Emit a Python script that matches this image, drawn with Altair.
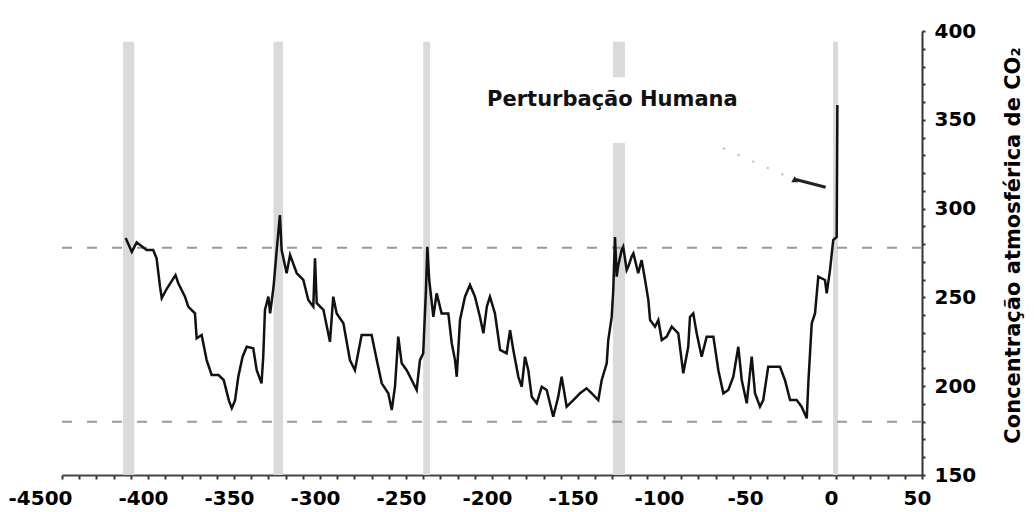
import altair as alt
import pandas as pd

# --- data (thousand years before present, CO2 ppm) ---
years = [-413, -409.4, -406.6, -400.8, -397, -395, -393, -392, -389, -384, -382.4, -378.5, -376.6,
         -372.7, -371.7, -368.8, -365.9, -363, -359, -356, -353, -351.3, -349.4, -347.5, -345,
         -342.6, -338.8, -336.8, -334, -333, -332, -330, -329, -327, -325, -323.3, -322.3, -319.4,
         -317.4, -313.5, -309.7, -306.8, -303.9, -302.9, -301.9, -298, -296, -294.2, -292.3, -290.3,
         -286.4, -282.6, -279.7, -275.8, -270, -267, -264.1, -260.3, -258.3, -256.4, -254.5, -252.5,
         -249.6, -246.7, -243.8, -241.9, -240, -238.4, -237.6, -236.5, -234.1, -232.2, -229.3, -225.4,
         -223.4, -221.5, -220.5, -218.6, -215.7, -212.8, -209.9, -207, -205, -203, -201.2, -198.3,
         -195.3, -191.5, -189.5, -187.6, -184.7, -182.7, -180.8, -178.9, -176.9, -174, -171.1, -168.2,
         -164.4, -161.5, -159.5, -156.6, -152.7, -148.8, -145, -142, -138.2, -136.2, -133.3, -132.4,
         -130.4, -129.5, -128.5, -127.5, -126.6, -124.6, -123.7, -121.7, -120.8, -118.8, -117.8, -115,
         -113, -111, -109.1, -108.1, -105.2, -103.3, -101.3, -98.4, -95.5, -91.7, -88.8, -85.9, -84.9,
         -83, -81, -78.1, -75.2, -71.3, -68.4, -65.5, -62.6, -59.7, -56.8, -54.8, -51.9, -49, -47.1,
         -44.2, -42.3, -39.4, -32.6, -29.7, -26.7, -22.9, -20, -17, -16, -14.1, -12.2, -10.3, -6.4,
         -5.4, -3.5, -1.6, 0.4, 0.8]
co2 = [283.4, 275.7, 281, 276.7, 276.7, 272, 256, 249.6, 255, 262.6, 258, 250.4, 244.8,
       241, 227, 228.8, 214.7, 206.3, 206.3, 203.5, 192, 187.6, 192, 205.3, 216.6,
       222.2, 221.3, 209, 201.6, 216.6, 243, 250.4, 241, 256, 278.5, 296.4, 276.7, 263.6,
       273.9, 263.6, 259.8, 248.5, 244.8, 272, 246.7, 243, 233.5, 225, 250.4, 241,
       235.4, 214.7, 209, 228.8, 228.8, 214.7, 201.6, 196, 186.6, 199.7, 227.9, 212.9,
       209, 203.5, 197.9, 214.7, 218.5, 254, 278.5, 259.8, 239, 252.3, 241, 241,
       224.2, 214.7, 205.3, 237.3, 250.4, 257, 250.4, 239, 229.8, 244.8, 250.4, 241,
       220.4, 218.5, 231.6, 220.4, 205.3, 199.7, 216.6, 209, 194, 190.4, 199.7, 197.9,
       182.8, 194, 205.3, 188.5, 192.2, 196, 198.8, 196, 192.2, 203.5, 212.9, 226,
       239, 254, 284, 261.7, 268, 276.7, 278.5, 265.4, 267.2, 273, 274.8, 263.6,
       271, 259.8, 248.5, 237.3, 233.5, 237.3, 226, 227.9, 233.5, 229.8, 207.3, 222.2, 239,
       241, 229.8, 216.6, 227.9, 227.9, 209, 196, 197.9, 205.3, 222.2, 203.5, 190.4, 216.6, 196,
       188.5, 192.2, 211, 211, 203.5, 192.2, 192.2, 188.5, 181.9, 203.5, 235.4, 241, 261.7, 259.8,
       252.3, 265.4, 282.3, 284, 358.3]

# interglacial bands (start, end in kyr)
band_start = [-414.5, -327, -240, -129.7, -1.7]
band_end = [-408, -321.5, -236, -122.7, 1.2]
band_top = 394

# reference levels (dashed)
ref_levels = [278, 180]

# annotation
label_text = "Perturbação Humana"
label_x = -130
label_y = 361
box_x = [-207, -53]
box_y = [337, 374]
arrow_dot_x = [-65.7, -27]
arrow_dot_y = [334, 317.5]
arrow_head_x = [-24, -6]
arrow_head_y = [316.5, 312]

x_ticks = list(range(-450, 51, 10))
y_ticks = list(range(150, 401, 10))

FONT = "DejaVu Sans"

curve_df = pd.DataFrame({"t": years, "co2": co2})
bands_df = pd.DataFrame({"a": band_start, "b": band_end, "lo": [150] * 5, "hi": [band_top] * 5})
ref_df = pd.DataFrame({"lvl": ref_levels, "a": [-450] * 2, "b": [50] * 2})
box_df = pd.DataFrame({"a": [box_x[0]], "b": [box_x[1]], "lo": [box_y[0]], "hi": [box_y[1]]})
dot_df = pd.DataFrame({"t": arrow_dot_x, "co2": arrow_dot_y})
head_df = pd.DataFrame({"t": arrow_head_x, "co2": arrow_head_y})
lab_df = pd.DataFrame({"t": [label_x], "co2": [label_y], "txt": [label_text]})

xscale = alt.Scale(domain=[-450, 50], nice=False, zero=False)
yscale = alt.Scale(domain=[150, 400], nice=False, zero=False)

xaxis = alt.Axis(
    values=x_ticks,
    labelExpr="datum.value == -450 ? '-4500' : (datum.value % 50 == 0 ? '' + datum.value : '')",
    title=None, grid=False, domainColor="#444", domainWidth=2,
    tickColor="#333", tickSize=4, tickWidth=2,
    labelFont=FONT, labelFontWeight="bold", labelFontSize=20, labelColor="black",
    labelPadding=9,
    labelOffset={"condition": {"test": "datum.value == -450", "value": -22}, "value": -5},
    labelFlush=False, labelOverlap=False, labelBound=False,
)
yaxis = alt.Axis(
    orient="right",
    values=y_ticks,
    labelExpr="datum.value % 50 == 0 ? '' + datum.value : ''",
    grid=False, domainColor="#333", domainWidth=2,
    tickColor="#333", tickSize=3, tickWidth=2,
    labelFont=FONT, labelFontWeight="bold", labelFontSize=20, labelColor="black",
    labelPadding=9, labelFlush=False, labelOverlap=False, labelBound=False,
    labelBaseline="middle",
    title="Concentração atmosférica de CO₂",
    titleFont=FONT, titleFontWeight="bold", titleFontSize=21, titleColor="black",
    titleAngle=270, titleX=91, titleY=214, titleAlign="center", titleBaseline="middle",
)


def X(f):
    return alt.X(f, type="quantitative", scale=xscale, axis=xaxis)


def Y(f):
    return alt.Y(f, type="quantitative", scale=yscale, axis=yaxis)


bands = alt.Chart(bands_df).mark_rect(color="#dadada").encode(
    x=X("a"), x2="b", y=Y("lo"), y2="hi"
)
refs = alt.Chart(ref_df).mark_rule(color="#999999", strokeWidth=2, strokeDash=[10, 15]).encode(
    x=X("a"), x2="b", y=Y("lvl")
)
box = alt.Chart(box_df).mark_rect(color="white").encode(
    x=X("a"), x2="b", y=Y("lo"), y2="hi"
)
curve = alt.Chart(curve_df).mark_line(color="#111111", strokeWidth=2.5, strokeJoin="miter").encode(
    x=X("t"), y=Y("co2")
)
dots = alt.Chart(dot_df).mark_line(color="#bbbbbb", strokeWidth=2, strokeDash=[2, 14]).encode(
    x=X("t"), y=Y("co2")
)
head = alt.Chart(head_df).mark_line(color="#222222", strokeWidth=3).encode(
    x=X("t"), y=Y("co2")
)
head_pt = alt.Chart(head_df.iloc[[0]]).mark_point(
    shape="triangle-up", filled=True, color="#222222", size=50, opacity=1
).encode(x=X("t"), y=Y("co2"))
label = alt.Chart(lab_df).mark_text(
    font=FONT, fontWeight="bold", fontSize=21, color="#111111", align="center", baseline="middle"
).encode(x=X("t"), y=Y("co2"), text="txt:N")

chart = alt.layer(bands, refs, box, curve, dots, head, head_pt, label).properties(
    width=860, height=444,
    autosize="none",
    background="white",
    padding={"left": 54, "top": 23, "right": 104, "bottom": 37},
).configure_view(strokeWidth=0, strokeOpacity=0)

chart.save("out.html", embed_options={"renderer": "svg", "actions": False})
